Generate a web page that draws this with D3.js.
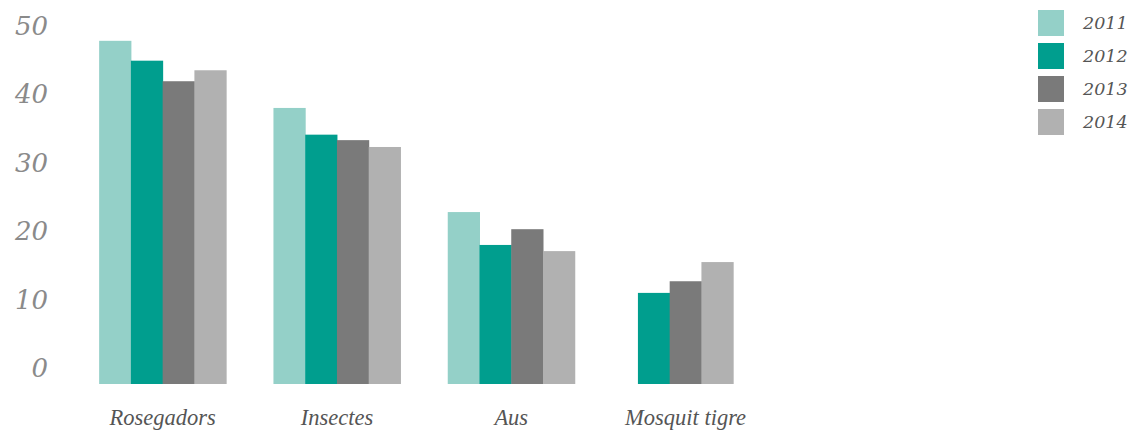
<!DOCTYPE html>
<html lang="ca">
<head>
<meta charset="UTF-8">
<title>Incidències per plaga</title>
<script src="https://d3js.org/d3.v7.min.js"></script>
<style>
  body { margin: 0; background: #fff; }
  svg { display: block; }
</style>
</head>
<body>
<div id="chart"></div>
<script>
  const categories = ["Rosegadors", "Insectes", "Aus", "Mosquit tigre"];
  const years = ["2011", "2012", "2013", "2014"];
  const values2011 = [50.1, 40.3, 25.1, null];
  const values2012 = [47.2, 36.4, 20.3, 13.3];
  const values2013 = [44.2, 35.6, 22.6, 15.0];
  const values2014 = [45.8, 34.6, 19.4, 17.8];
  const yTicks = [0, 10, 20, 30, 40, 50];
  const colors = ["#94d0c8", "#009e8e", "#7a7a7a", "#b1b1b1"];

  const series = [values2011, values2012, values2013, values2014];

  const width = 1138, height = 437;
  const svg = d3.select("#chart").append("svg")
    .attr("width", width)
    .attr("height", height);

  const x = d3.scaleBand().domain(categories).range([75.5, 772.7]);
  const y = d3.scaleLinear().domain([0, 50]).range([384, 41.5]);
  const barW = 31.75;

  // y labels sit a little above their value line
  svg.append("g").selectAll("text")
    .data(yTicks)
    .enter().append("text")
    .attr("x", 48)
    .attr("y", d => y(d) - 16)
    .attr("dy", "0.36em")
    .attr("text-anchor", "end")
    .attr("fill", "#8a8a8a")
    .style("font", "italic 26px 'DejaVu Serif', serif")
    .text(d => d);

  // bars, centred on the years that have a value
  const groups = svg.append("g").selectAll("g")
    .data(categories)
    .enter().append("g")
    .attr("transform", c => `translate(${x(c) + x.bandwidth() / 2},0)`);

  groups.each(function(c, i) {
    const present = years.filter((yr, k) => series[k][i] != null);
    const inner = d3.scaleBand().domain(present)
      .range([-present.length * barW / 2, present.length * barW / 2]);
    d3.select(this).selectAll("rect")
      .data(present)
      .enter().append("rect")
      .attr("x", yr => inner(yr))
      .attr("width", inner.bandwidth() + 0.5)
      .attr("y", yr => y(series[years.indexOf(yr)][i]))
      .attr("height", yr => y(0) - y(series[years.indexOf(yr)][i]))
      .attr("fill", yr => colors[years.indexOf(yr)]);
  });

  // category labels
  svg.append("g").selectAll("text")
    .data(categories)
    .enter().append("text")
    .attr("x", c => x(c) + x.bandwidth() / 2)
    .attr("y", 425)
    .attr("text-anchor", "middle")
    .attr("fill", "#555")
    .style("font", "italic 22.5px 'Liberation Serif', serif")
    .text(c => c);

  // legend
  const legend = svg.append("g").selectAll("g")
    .data(years)
    .enter().append("g")
    .attr("transform", (d, i) => `translate(1038,${10 + i * 33})`);

  legend.append("rect")
    .attr("width", 26)
    .attr("height", 26)
    .attr("fill", (d, i) => colors[i]);

  legend.append("text")
    .attr("x", 45)
    .attr("y", 13)
    .attr("dy", "0.36em")
    .attr("fill", "#555")
    .style("font", "italic 17.5px 'DejaVu Serif', serif")
    .text(d => d);
</script>
</body>
</html>
